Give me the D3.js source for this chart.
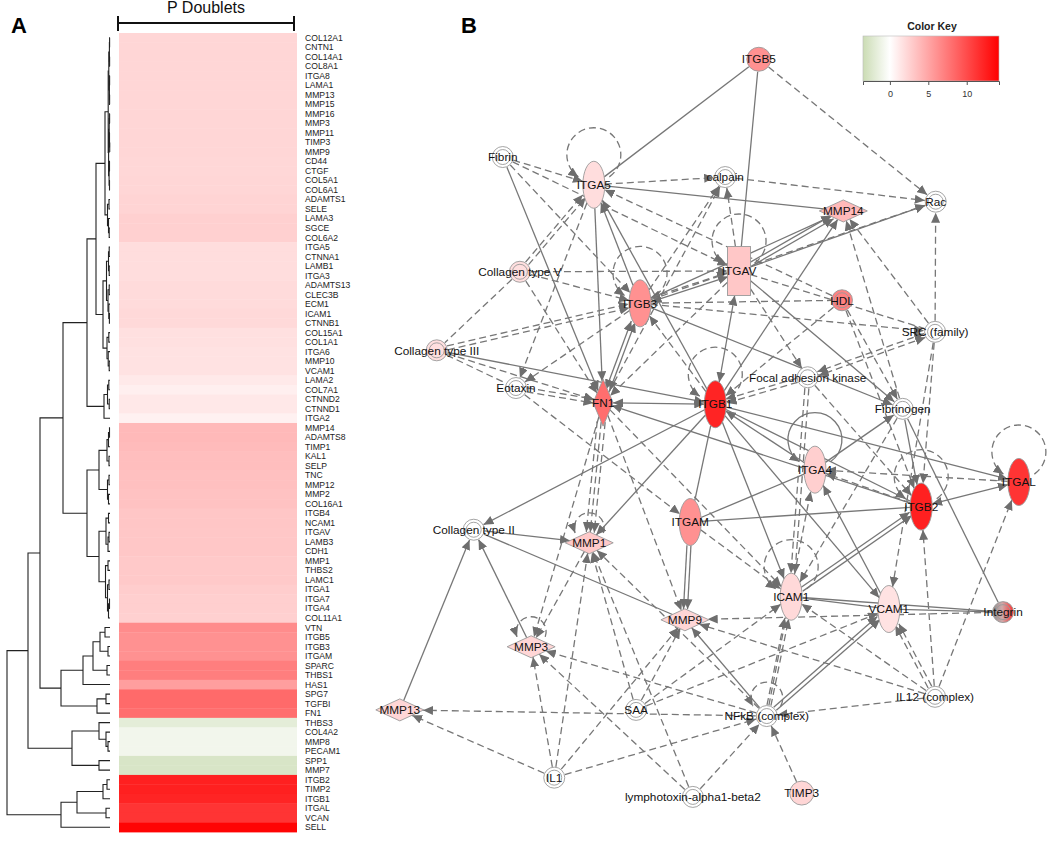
<!DOCTYPE html>
<html>
<head>
<meta charset="utf-8">
<script src="https://cdn.jsdelivr.net/npm/d3@7"></script>
<style>
  body { margin: 0; background: #fff; }
  svg { font-family: Arial, "Liberation Sans", sans-serif; }
</style>
</head>
<body>
<svg id="fig" width="1050" height="841"></svg>
<script>
// ---- panel A data ----
const genes = [
  'COL12A1','CNTN1','COL14A1','COL8A1','ITGA8','LAMA1','MMP13','MMP15','MMP16','MMP3',
  'MMP11','TIMP3','MMP9','CD44','CTGF','COL5A1','COL6A1','ADAMTS1','SELE','LAMA3',
  'SGCE','COL6A2','ITGA5','CTNNA1','LAMB1','ITGA3','ADAMTS13','CLEC3B','ECM1','ICAM1',
  'CTNNB1','COL15A1','COL1A1','ITGA6','MMP10','VCAM1','LAMA2','COL7A1','CTNND2','CTNND1',
  'ITGA2','MMP14','ADAMTS8','TIMP1','KAL1','SELP','TNC','MMP12','MMP2','COL16A1',
  'ITGB4','NCAM1','ITGAV','LAMB3','CDH1','MMP1','THBS2','LAMC1','ITGA1','ITGA7',
  'ITGA4','COL11A1','VTN','ITGB5','ITGB3','ITGAM','SPARC','THBS1','HAS1','SPG7',
  'TGFBI','FN1','THBS3','COL4A2','MMP8','PECAM1','SPP1','MMP7','ITGB2','TIMP2',
  'ITGB1','ITGAL','VCAN','SELL'
];
const doubletValues = [
  2.3,2.3,2.3,2.3,2.3,2.3,2.3,2.3,2.3,2.3,
  2.3,2.3,2.3,2.2,2.2,2.3,2.3,2.4,2.4,2.6,
  2.6,2.6,1.9,1.9,1.9,1.9,2.0,2.0,2.0,2.1,
  2.1,1.7,1.7,1.6,1.6,1.6,1.2,0.9,1.3,1.3,
  0.8,3.9,3.9,3.8,3.6,3.6,3.5,3.5,3.4,3.4,
  3.2,3.2,3.1,3.1,3.1,3.0,3.0,3.0,2.8,2.7,
  2.7,2.6,6.4,6.1,6.1,6.1,7.2,7.2,5.4,8.3,
  8.3,8.1,-1.8,-0.9,-0.9,-0.9,-2.6,-2.6,12.4,12.4,
  12.2,11.3,11.3,14.0
];
// dendrogram: [merge height, left, right] or a gene name
const dendrogram =
  [103,
    [82,
      [70,
        [47,
          [23,
            [14,
              [5,
                [1.8,
                  [1.2, [0.6, [0.4,'COL12A1','CNTN1'], [0.4,'COL14A1','COL8A1']],
                        [0.6, [0.4,'ITGA8','LAMA1'], [0.4,'MMP13','MMP15']]],
                  [1.4, [0.8, [0.4,'MMP16','MMP3'], [0.5,'MMP11',[0.3,'TIMP3','MMP9']]],
                        [0.9, [0.5,'CD44','CTGF'], [0.5,'COL5A1','COL6A1']]]],
                [2.5, [1,'ADAMTS1','SELE'], [1.5,'LAMA3',[0.8,'SGCE','COL6A2']]]],
              [7,
                [3.5, [1.5, [0.8,'ITGA5','CTNNA1'], [0.8,'LAMB1','ITGA3']],
                      [2, [0.8,'ADAMTS13','CLEC3B'], [1.2,'ECM1',[0.6,'ICAM1','CTNNB1']]]],
                [3, [1.2,'COL15A1','COL1A1'], [1.8,'ITGA6',[0.8,'MMP10','VCAM1']]]]],
            [6, [2.5, [1.2,'LAMA2','COL7A1'], [0.8,'CTNND2','CTNND1']], 'ITGA2']],
          [23,
            [11, [3, [1.5,[0.5,'MMP14','ADAMTS8'],'TIMP1'], [1,'KAL1','SELP']],
                 [2.5, [1,'TNC','MMP12'], [1.5,'MMP2','COL16A1']]],
            [11, [4, [1.5,'ITGB4','NCAM1'], [2,[1,'ITGAV','LAMB3'],'CDH1']],
                 [4.5, [2,'MMP1','THBS2'], [2.5,[1,'LAMC1','ITGA1'],[1.5,[0.5,'ITGA7','ITGA4'],'COL11A1']]]]]],
        [49,
          [27, [17, [10, [5,'VTN','ITGB5'], [2,'ITGB3','ITGAM']], [3,'SPARC','THBS1']], 'HAS1'],
          [13, [4,'SPG7','TGFBI'], 'FN1']]],
      [38, [11, 'THBS3', [4, 'COL4A2', [2, 'MMP8','PECAM1']]], [11, 'SPP1','MMP7']]],
    [49, [33, [7, [3,'ITGB2','TIMP2'], 'ITGB1'], [4,'ITGAL','VCAN']], 'SELL']];

const colorDomain = [-3.5, 0, 14.2];
const colorRange = ['#cbdcb4', '#ffffff', '#ff0000'];
const keyTicks = [0, 5, 10];

// ---- panel B data ----
const netNodes = [
  ['ITGB5','circle'], ['Fibrin','group'], ['ITGA5','ellipse'], ['calpain','group'],
  ['MMP14','diamond'], ['Rac','group'], ['Collagen type V','group'], ['ITGAV','rect'],
  ['ITGB3','ellipse'], ['HDL','group'], ['SRC (family)','group'], ['Collagen type III','group'],
  ['Eotaxin','group'], ['Focal adhesion kinase','group'], ['FN1','vdiamond'], ['ITGB1','ellipse'],
  ['Fibrinogen','group'], ['ITGA4','ellipse'], ['ITGB2','ellipse'], ['ITGAL','ellipse'],
  ['ITGAM','ellipse'], ['Collagen type II','group'], ['MMP1','diamond'], ['ICAM1','ellipse'],
  ['VCAM1','ellipse'], ['MMP9','diamond'], ['Integrin','group'], ['MMP3','diamond'],
  ['IL12 (complex)','group'], ['MMP13','diamond'], ['SAA','group'], ['NFkB (complex)','group'],
  ['IL1','group'], ['lymphotoxin-alpha1-beta2','group'], ['TIMP3','circle']
];
// layout on a 0-100 grid (same order as netNodes)
const netLayout = [
  [57.4,2.5], [18.6,15.2], [32.4,18.8], [52.3,17.8], [70.2,22.2], [84.2,21.0],
  [21.2,30.1], [54.4,30.0], [39.4,34.2], [70.0,33.8], [84.1,37.9], [8.6,40.3],
  [20.6,45.2], [64.8,43.8], [33.8,47.1], [50.8,47.3], [79.2,47.9], [65.9,55.8],
  [82.0,60.6], [96.8,57.4], [47.0,62.6], [14.2,63.6], [31.7,65.3], [62.3,72.3],
  [77.1,73.9], [46.2,75.3], [94.4,74.3], [22.9,78.8], [84.1,85.3], [3.0,87.0],
  [38.8,87.0], [58.6,87.8], [26.4,95.8], [47.4,98.3], [63.9,97.8]
];
const groupValues = { 'Collagen type V': 1.8, 'Collagen type III': 1.8, 'HDL': 7.0 };
// [source, target, 's' solid | 'd' dashed, arrows: 0 none, 1 end, 2 both]
const netEdges = [
  ['ITGB5','ITGA5','s',0], ['ITGB5','ITGAV','s',0], ['ITGB5','Rac','d',1],
  ['Fibrin','ITGA5','d',1], ['Fibrin','FN1','s',1], ['Fibrin','ITGB3','d',1], ['Fibrin','ITGAV','d',1],
  ['ITGA5','calpain','d',1], ['ITGA5','MMP14','s',0], ['ITGA5','FN1','s',1], ['ITGB3','ITGA5','s',1],
  ['ITGB1','ITGA5','s',1], ['HDL','ITGA5','d',1], ['ITGA5','Eotaxin','d',1],
  ['calpain','Rac','d',1], ['FN1','calpain','d',1], ['ITGB3','calpain','d',1], ['ITGAV','calpain','d',1],
  ['Collagen type V','ITGAV','d',1], ['Collagen type V','ITGA5','d',1], ['Collagen type V','ITGA5','d',1],
  ['Collagen type V','ITGB3','d',1], ['Collagen type V','FN1','d',1], ['Collagen type V','Collagen type III','d',0],
  ['Collagen type III','ITGB3','d',1], ['Collagen type III','ITGB3','d',1], ['Collagen type III','ITGB1','s',1],
  ['Collagen type III','FN1','d',1], ['Collagen type III','Eotaxin','d',0],
  ['Eotaxin','FN1','d',1], ['Eotaxin','FN1','d',1], ['Eotaxin','ITGAM','d',1], ['ITGB3','Eotaxin','d',1],
  ['ITGB3','FN1','s',2], ['ITGB3','FN1','s',2], ['ITGB1','ITGB3','d',1], ['ITGB3','ITGAV','d',2],
  ['ITGB3','ITGAV','s',2], ['ITGB3','HDL','d',0], ['ITGB3','SRC (family)','d',1], ['ITGB3','Fibrinogen','s',1],
  ['ITGB3','MMP14','s',1], ['ITGB3','Rac','d',1],
  ['ITGAV','MMP14','s',1], ['ITGAV','MMP14','s',1], ['ITGAV','Rac','s',1], ['ITGAV','ITGB1','s',2],
  ['ITGAV','Focal adhesion kinase','d',1], ['ITGAV','Fibrinogen','s',1], ['ITGAV','SRC (family)','d',0],
  ['ITGAV','FN1','d',1], ['ITGB1','MMP14','s',1], ['Fibrinogen','MMP14','d',1], ['SRC (family)','MMP14','d',1],
  ['SRC (family)','Rac','d',1], ['SRC (family)','Focal adhesion kinase','d',2], ['SRC (family)','Focal adhesion kinase','d',2],
  ['SRC (family)','ITGB2','d',1], ['SRC (family)','VCAM1','d',1],
  ['HDL','Fibrinogen','d',1], ['HDL','ITGB1','d',1], ['HDL','ITGB2','d',1],
  ['Focal adhesion kinase','ITGB1','d',1], ['Focal adhesion kinase','ITGB1','d',1],
  ['Focal adhesion kinase','ICAM1','d',1], ['Focal adhesion kinase','ICAM1','d',1], ['Focal adhesion kinase','ITGB2','d',1],
  ['FN1','ITGB1','s',2], ['ITGB2','FN1','s',1], ['FN1','MMP1','d',1], ['FN1','MMP1','d',1], ['FN1','MMP1','d',1],
  ['FN1','MMP3','d',1], ['FN1','ICAM1','d',1], ['FN1','MMP9','d',1],
  ['ITGB1','ITGAL','s',1], ['ITGA4','ITGB1','s',1], ['ITGB1','ITGB2','s',0], ['ITGB1','ICAM1','s',1],
  ['ITGB1','VCAM1','s',1], ['ITGB1','Collagen type II','s',1], ['ITGB1','MMP1','s',1], ['ITGB1','ITGAM','s',0],
  ['ITGA4','Fibrinogen','s',1], ['ITGAL','ITGA4','d',1], ['ITGB2','ITGA4','d',1], ['VCAM1','ITGA4','s',1],
  ['NFkB (complex)','ITGA4','d',1], ['ITGAM','ITGB2','s',0], ['ITGAM','ITGA4','s',0], ['ITGB2','ITGAL','s',2],
  ['ICAM1','ITGB2','s',1], ['ICAM1','ITGB2','s',1], ['IL12 (complex)','ITGB2','d',1], ['IL12 (complex)','ITGAL','d',1],
  ['Fibrinogen','Integrin','s',0], ['Fibrinogen','ITGB2','s',1], ['Fibrinogen','ICAM1','d',1],
  ['ITGAM','MMP9','s',1], ['ITGAM','MMP9','s',1], ['ITGAM','ICAM1','d',1],
  ['Collagen type II','MMP1','s',1], ['MMP13','Collagen type II','s',1], ['MMP3','Collagen type II','s',1],
  ['Collagen type II','MMP9','s',0], ['MMP1','MMP3','d',1],
  ['IL1','MMP1','d',1], ['SAA','MMP1','d',1], ['NFkB (complex)','MMP1','d',1], ['lymphotoxin-alpha1-beta2','MMP1','d',1],
  ['IL1','MMP3','d',1], ['lymphotoxin-alpha1-beta2','MMP3','d',1], ['NFkB (complex)','MMP3','d',1],
  ['NFkB (complex)','MMP13','d',1], ['IL1','MMP13','d',1], ['IL1','MMP9','d',1], ['IL1','NFkB (complex)','d',1],
  ['SAA','ICAM1','d',1], ['SAA','VCAM1','d',1], ['SAA','MMP9','d',1],
  ['ICAM1','VCAM1','s',0], ['ICAM1','Integrin','s',0], ['VCAM1','Integrin','s',0], ['Integrin','MMP9','d',1],
  ['NFkB (complex)','ICAM1','d',1], ['NFkB (complex)','ICAM1','d',1],
  ['NFkB (complex)','VCAM1','s',1], ['NFkB (complex)','VCAM1','s',1], ['NFkB (complex)','MMP9','s',1],
  ['IL12 (complex)','ICAM1','d',1], ['IL12 (complex)','VCAM1','d',1], ['IL12 (complex)','VCAM1','d',1],
  ['IL12 (complex)','NFkB (complex)','d',1], ['IL12 (complex)','MMP9','d',1],
  ['TIMP3','NFkB (complex)','d',1], ['lymphotoxin-alpha1-beta2','NFkB (complex)','d',1]
];
// self interactions
const selfLoops = [
  ['ITGA5','d'], ['ITGAV','d'], ['ITGB3','d'], ['ITGB1','d'], ['ITGA4','s'], ['ITGB2','d'],
  ['ITGAL','d'], ['ICAM1','d'], ['MMP1','d'], ['MMP3','d'], ['NFkB (complex)','d']
];

// ---- drawing ----
const svg = d3.select('#fig');
const font = 'Arial, "Liberation Sans", sans-serif';
const color = d3.scaleLinear().domain(colorDomain).range(colorRange).clamp(true);
const valueOf = new Map(genes.map((g, i) => [g, doubletValues[i]]));

// panel letters
svg.append('text').attr('x', 11).attr('y', 33).attr('font-size', 22).attr('font-weight', 'bold').text('A');
svg.append('text').attr('x', 461).attr('y', 33).attr('font-size', 22).attr('font-weight', 'bold').text('B');

// heatmap
const heatX = [119, 297];
const rowY = d3.scaleBand().domain(genes).range([33, 832]);
const gHeat = svg.append('g');
gHeat.selectAll('rect')
  .data(genes)
  .join('rect')
  .attr('x', heatX[0])
  .attr('y', (g) => rowY(g))
  .attr('width', heatX[1] - heatX[0])
  .attr('height', rowY.bandwidth() + 0.4)
  .attr('fill', (g) => color(valueOf.get(g)));
gHeat.selectAll('text')
  .data(genes)
  .join('text')
  .attr('x', 305)
  .attr('y', (g) => rowY(g) + rowY.bandwidth() / 2)
  .attr('dy', '0.35em')
  .attr('font-size', 8.6)
  .attr('fill', '#222')
  .text((g) => g);

// column bracket + title
const gTitle = svg.append('g').attr('stroke', '#111').attr('stroke-width', 2);
gTitle.append('line').attr('x1', 118).attr('x2', 294).attr('y1', 23).attr('y2', 23);
gTitle.append('line').attr('x1', 118).attr('x2', 118).attr('y1', 16).attr('y2', 31);
gTitle.append('line').attr('x1', 294).attr('x2', 294).attr('y1', 16).attr('y2', 31);
svg.append('text').attr('x', 206).attr('y', 13).attr('text-anchor', 'middle')
  .attr('font-size', 16).attr('fill', '#111').text('P Doublets');

// dendrogram
const root = d3.hierarchy(dendrogram, (d) => (Array.isArray(d) ? d.slice(1) : null));
const dendX = d3.scaleLinear().domain([0, 103]).range([110, 7]);
root.eachAfter((n) => {
  if (n.children) {
    n.py = d3.mean(n.children, (c) => c.py);
    n.px = dendX(n.data[0]);
  } else {
    n.py = rowY(n.data) + rowY.bandwidth() / 2;
    n.px = dendX(0);
  }
});
svg.append('g')
  .attr('fill', 'none')
  .attr('stroke', '#222')
  .attr('stroke-width', 1.1)
  .selectAll('path')
  .data(root.descendants().filter((n) => n.children))
  .join('path')
  .attr('d', (n) => {
    const [a, b] = n.children;
    return `M${a.px},${a.py}H${n.px}V${b.py}H${b.px}`;
  });

// color key
const keyX = d3.scaleLinear().domain([colorDomain[0], colorDomain[2]]).range([863, 999]);
const defs = svg.append('defs');
const keyGrad = defs.append('linearGradient').attr('id', 'keyGrad');
colorDomain.forEach((v, i) => {
  keyGrad.append('stop')
    .attr('offset', (keyX(v) - 863) / (999 - 863))
    .attr('stop-color', colorRange[i]);
});
svg.append('rect').attr('x', 863).attr('y', 36).attr('width', 136).attr('height', 45)
  .attr('fill', 'url(#keyGrad)').attr('stroke', '#bbb').attr('stroke-width', 0.6);
svg.append('text').attr('x', 932).attr('y', 30).attr('text-anchor', 'middle')
  .attr('font-size', 10.5).attr('font-weight', 'bold').attr('fill', '#222').text('Color Key');
const keyAxis = svg.append('g')
  .attr('transform', 'translate(0,81)')
  .call(d3.axisBottom(keyX).tickValues(keyTicks).tickSize(4).tickPadding(6));
keyAxis.select('.domain').attr('stroke', '#555').attr('stroke-width', 1);
keyAxis.selectAll('.tick line').attr('stroke', '#555');
keyAxis.selectAll('text').attr('font-size', 9).attr('fill', '#333').attr('font-family', font);

// network
const netX = d3.scaleLinear().domain([0, 100]).range([380, 1040]);
const netY = d3.scaleLinear().domain([0, 100]).range([40, 810]);
const shapeSize = {
  ellipse: [11, 23.5], diamond: [24, 11], vdiamond: [10, 23.5], rect: [11.5, 24.5],
  circle: [12, 12], group: [10.5, 10.5]
};
const nodes = netNodes.map(([id, shape], i) => ({
  id, shape,
  x: netX(netLayout[i][0]),
  y: netY(netLayout[i][1]),
  value: valueOf.has(id) ? valueOf.get(id) : (groupValues[id] || 0)
}));
const nodeById = new Map(nodes.map((n) => [n.id, n]));

const boundary = (n, ang) => {
  const [a, b] = shapeSize[n.shape];
  const c = Math.abs(Math.cos(ang)), s = Math.abs(Math.sin(ang));
  if (n.shape === 'ellipse') return (a * b) / Math.sqrt((b * c) ** 2 + (a * s) ** 2);
  if (n.shape === 'diamond' || n.shape === 'vdiamond') return 1 / (c / a + s / b);
  if (n.shape === 'rect') return Math.min(c > 1e-6 ? a / c : 1e9, s > 1e-6 ? b / s : 1e9);
  return a + 0.5;
};

defs.append('marker')
  .attr('id', 'arr')
  .attr('viewBox', '0 0 10 9')
  .attr('refX', 10)
  .attr('refY', 4.5)
  .attr('markerWidth', 10)
  .attr('markerHeight', 9)
  .attr('markerUnits', 'userSpaceOnUse')
  .attr('orient', 'auto-start-reverse')
  .append('path')
  .attr('d', 'M0,0L10,4.5L0,9Z')
  .attr('fill', '#6e6e6e');

const pairKey = (e) => [e[0], e[1]].sort().join('|');
const pairCount = d3.rollup(netEdges, (v) => v.length, pairKey);
const pairSeen = new Map();
const edgeGeo = netEdges.map((e) => {
  const a = nodeById.get(e[0]), b = nodeById.get(e[1]);
  const k = pairKey(e);
  const i = pairSeen.get(k) || 0;
  pairSeen.set(k, i + 1);
  const off = (i - (pairCount.get(k) - 1) / 2) * 4;
  const dx = b.x - a.x, dy = b.y - a.y, L = Math.hypot(dx, dy);
  const ux = dx / L, uy = dy / L;
  const ang = Math.atan2(dy, dx);
  const ra = boundary(a, ang), rb = boundary(b, ang);
  return {
    x1: a.x + ux * ra - uy * off, y1: a.y + uy * ra + ux * off,
    x2: b.x - ux * rb - uy * off, y2: b.y - uy * rb + ux * off,
    style: e[2], arrow: e[3]
  };
});

const gNet = svg.append('g');

// self loops
const loopSpec = { ellipse: [27, 30, 125, 55], diamond: [15, 15, 160, 20], group: [16, 18, 150, 30] };
gNet.append('g')
  .attr('fill', 'none')
  .attr('stroke', '#777')
  .attr('stroke-width', 1.3)
  .selectAll('path')
  .data(selfLoops)
  .join('path')
  .attr('stroke-dasharray', (d) => (d[1] === 'd' ? '7,4' : null))
  .attr('marker-end', 'url(#arr)')
  .attr('d', ([id]) => {
    const n = nodeById.get(id);
    const [R, off, a1, a2] = loopSpec[n.shape] || loopSpec.ellipse;
    const cx = n.x, cy = n.y - off;
    const p = (deg) => [cx + R * Math.cos((deg * Math.PI) / 180), cy + R * Math.sin((deg * Math.PI) / 180)];
    const [sx, sy] = p(a2), [ex, ey] = p(a1);
    return `M${sx},${sy}A${R},${R} 0 1 0 ${ex},${ey}`;
  });

// edges
gNet.append('g')
  .selectAll('line')
  .data(edgeGeo)
  .join('line')
  .attr('x1', (d) => d.x1).attr('y1', (d) => d.y1)
  .attr('x2', (d) => d.x2).attr('y2', (d) => d.y2)
  .attr('stroke', '#777')
  .attr('stroke-width', 1.3)
  .attr('stroke-dasharray', (d) => (d.style === 'd' ? '7,4' : null))
  .attr('marker-end', (d) => (d.arrow ? 'url(#arr)' : null))
  .attr('marker-start', (d) => (d.arrow === 2 ? 'url(#arr)' : null));

// integrin gradient
const intGrad = defs.append('linearGradient').attr('id', 'intGrad');
intGrad.append('stop').attr('offset', 0).attr('stop-color', '#8c8c8c');
intGrad.append('stop').attr('offset', 0.45).attr('stop-color', '#cfaaaa');
intGrad.append('stop').attr('offset', 1).attr('stop-color', '#ff3030');

// nodes
const fillOf = (n) => (n.id === 'Integrin' ? 'url(#intGrad)' : color(n.value));
const gNodes = gNet.append('g').attr('stroke', '#9a9a9a').attr('stroke-width', 0.9);
nodes.forEach((n) => {
  const [a, b] = shapeSize[n.shape];
  const g = gNodes.append('g').attr('transform', `translate(${n.x},${n.y})`);
  if (n.shape === 'ellipse') {
    g.append('ellipse').attr('rx', a).attr('ry', b).attr('fill', fillOf(n));
  } else if (n.shape === 'diamond' || n.shape === 'vdiamond') {
    g.append('path').attr('d', `M${-a},0L0,${-b}L${a},0L0,${b}Z`).attr('fill', fillOf(n));
  } else if (n.shape === 'rect') {
    g.append('rect').attr('x', -a).attr('y', -b).attr('width', 2 * a).attr('height', 2 * b).attr('fill', fillOf(n));
  } else if (n.shape === 'circle') {
    g.append('circle').attr('r', a).attr('fill', fillOf(n));
  } else {
    g.append('circle').attr('r', a).attr('fill', fillOf(n));
    g.append('circle').attr('r', a - 3).attr('fill', 'none');
  }
});

// labels
gNet.append('g')
  .selectAll('text')
  .data(nodes)
  .join('text')
  .attr('x', (n) => n.x)
  .attr('y', (n) => n.y)
  .attr('dy', '0.36em')
  .attr('text-anchor', 'middle')
  .attr('font-size', 11.8)
  .attr('fill', '#111')
  .text((n) => n.id);
</script>
</body>
</html>
